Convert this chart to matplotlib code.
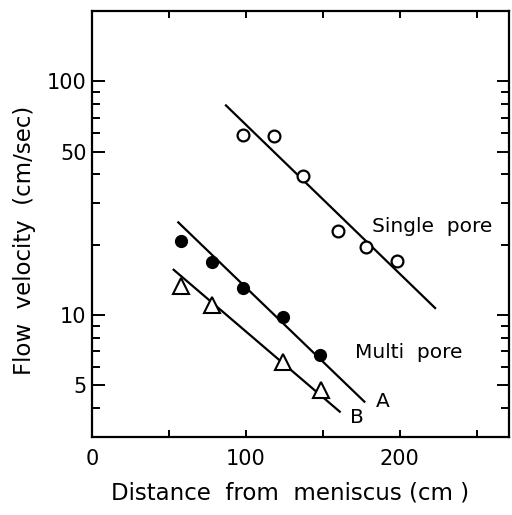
import matplotlib
matplotlib.use("Agg")
import matplotlib.pyplot as plt
from matplotlib.ticker import FixedLocator, FixedFormatter, NullFormatter

# single pore (open circles)
single_x = [98, 118, 137, 160, 178, 198]
single_v = [58.8, 58.2, 39.3, 22.9, 19.5, 17.0]
single_fit_x = [87, 223]
single_fit_v = [78.9, 10.7]

# multi pore A (filled circles)
multi_a_x = [58, 78, 98, 124, 148]
multi_a_v = [20.7, 16.8, 13.0, 9.8, 6.75]
multi_a_fit_x = [56, 177]
multi_a_fit_v = [24.9, 4.25]

# multi pore B (open triangles)
multi_b_x = [58, 78, 124, 149]
multi_b_v = [13.3, 11.0, 6.3, 4.78]
multi_b_fit_x = [53, 161]
multi_b_fit_v = [15.6, 3.85]

plt.rcParams["font.family"] = "DejaVu Sans"
fig = plt.figure(figsize=(5.12, 5.15), dpi=100)
ax = fig.add_axes([0.180, 0.1515, 0.814, 0.827])

lw = 1.6
ax.plot(single_fit_x, single_fit_v, color="black", lw=lw)
ax.plot(multi_a_fit_x, multi_a_fit_v, color="black", lw=lw)
ax.plot(multi_b_fit_x, multi_b_fit_v, color="black", lw=lw)

ax.plot(single_x, single_v, "o", ms=8.5, mfc="white", mec="black", mew=1.6)
ax.plot(multi_a_x, multi_a_v, "o", ms=8.5, mfc="black", mec="black")
ax.plot(multi_b_x, multi_b_v, "^", ms=11, mfc="white", mec="black", mew=1.5)

ax.set_yscale("log")
ax.set_xlim(0, 271)
ax.set_ylim(3, 200)

ax.xaxis.set_major_locator(FixedLocator([0, 100, 200]))
ax.xaxis.set_minor_locator(FixedLocator([50, 150, 250]))
ax.yaxis.set_major_locator(FixedLocator([5, 10, 50, 100]))
ax.yaxis.set_major_formatter(FixedFormatter(["5", "10", "50", "100"]))
ax.yaxis.set_minor_locator(FixedLocator([4, 6, 7, 8, 9, 20, 30, 40, 60, 70, 80, 90]))
ax.yaxis.set_minor_formatter(NullFormatter())

ax.tick_params(axis="both", which="both", direction="in", top=True, right=True,
               labelsize=15, width=1.4)
ax.tick_params(axis="y", which="major", length=9, pad=4)
ax.tick_params(axis="y", which="minor", length=6)
ax.tick_params(axis="x", which="major", length=5, pad=9)
ax.tick_params(axis="x", which="minor", length=5)
for s in ax.spines.values():
    s.set_linewidth(1.6)

ax.text(182, 23.8, "Single  pore", fontsize=14.5, va="center", ha="left")
ax.text(171, 6.88, "Multi  pore", fontsize=14.5, va="center", ha="left")
ax.text(189, 4.25, "A", fontsize=14.5, va="center", ha="center")
ax.text(172, 3.63, "B", fontsize=14.5, va="center", ha="center")

ax.set_xlabel("Distance  from  meniscus (cm )", fontsize=16.5)
ax.set_ylabel("Flow  velocity  (cm/sec)", fontsize=16.5)
ax.xaxis.set_label_coords(0.475, -0.105)
ax.yaxis.set_label_coords(-0.135, 0.462)

fig.savefig("out.png", dpi=100)
